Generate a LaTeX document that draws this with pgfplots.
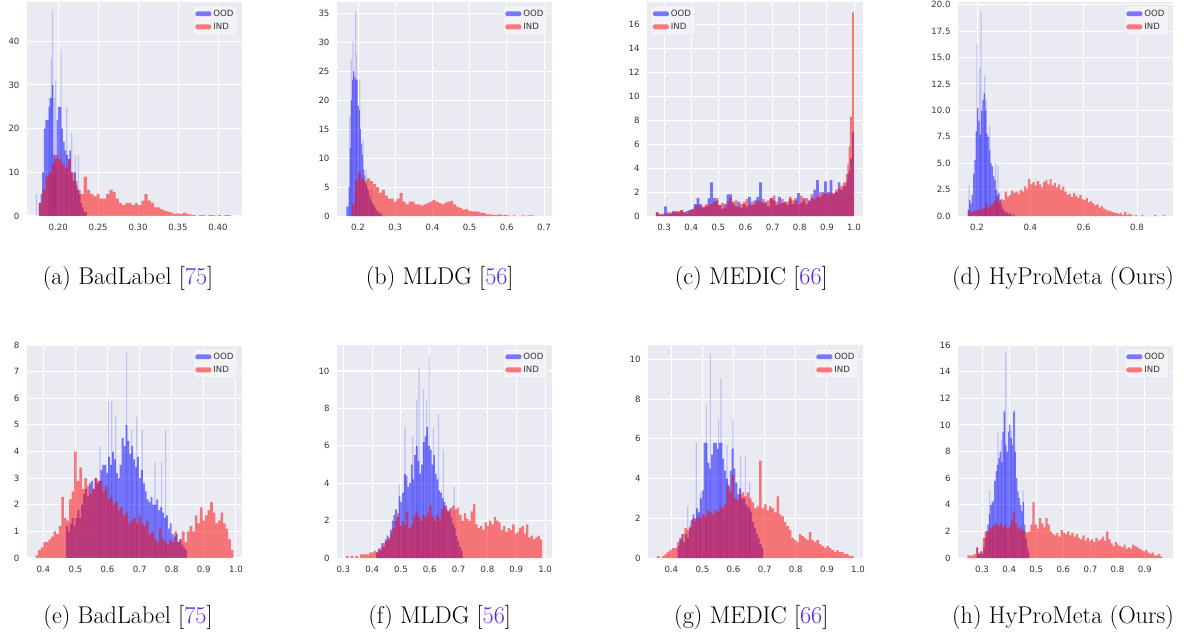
\documentclass[border=0pt]{standalone}
\usepackage{pgfplots}
\pgfplotsset{compat=1.18}
\usepackage{fontspec}
\newfontfamily\dejavu{DejaVu Sans}
\definecolor{snsbg}{HTML}{EAEAF2}
\definecolor{citec}{RGB}{85,40,240}
\definecolor{ticktext}{HTML}{333333}

\pgfplotsset{
  sns/.style={
    scale only axis, anchor=north west,
    width=215pt, height=214pt,
    axis background/.style={fill=snsbg},
    axis line style={draw=none},
    major tick length=0pt,
    xmajorgrids, ymajorgrids,
    major grid style={white, line width=1pt},
    ymin=0,
    /pgf/number format/assume math mode=true,
    tick label style={font=\dejavu\fontsize{8.6}{10}\selectfont, text=ticktext},
    xticklabel style={yshift=-4.5pt},
    yticklabel style={xshift=-4pt},
    legend cell align=left,
    legend style={draw=black!15, fill=snsbg!60!white,
      rounded corners=1.5pt, font=\dejavu\fontsize{8.6}{10}\selectfont, text=ticktext,
      inner sep=2.2pt, row sep=1.2pt},
    legend image code/.code={\fill[##1] (0pt,-2.4pt) rectangle (16pt,2.4pt);},
  },
  legR/.style={legend style={at={(1,1)}, anchor=north east, xshift=-4pt, yshift=-3.5pt}},
  legL/.style={legend style={at={(0,1)}, anchor=north west, xshift=3.5pt, yshift=-3.5pt}},
  ood/.style={const plot mark left, fill=blue, fill opacity=0.5, draw=none},
  ind/.style={const plot mark left, fill=red, fill opacity=0.5, draw=none},
  spk/.style={ybar, bar width=1.2pt, fill=blue, fill opacity=0.18, draw=none, forget plot},
}

\begin{document}
\begin{tikzpicture}
\path[use as bounding box] (0pt,0pt) rectangle (1190pt,-637pt);

% ---------------- (a) BadLabel, row 1
\begin{axis}[sns, legR, at={(27pt,-2pt)},
  xmin=0.161, xmax=0.43, ymax=49,
  xtick={0.20,0.25,0.30,0.35,0.40}, xticklabels={0.20,0.25,0.30,0.35,0.40},
  ytick={0,10,20,30,40}, yticklabels={0,10,20,30,40}]
\addplot[spk] coordinates {(0.1929,47) (0.1913,36) (0.2037,38) (0.197,31) (0.2108,25) (0.1888,27) (0.217,19) (0.2213,14) (0.2254,14) (0.173,5) (0.1955,27)};
\addplot[ood] coordinates {(0.176,3) (0.178,5) (0.180,10) (0.182,20) (0.184,22) (0.186,22) (0.188,25) (0.190,27) (0.192,30) (0.194,14) (0.196,13) (0.198,22) (0.200,25) (0.202,25) (0.204,20) (0.206,17) (0.208,15) (0.210,14) (0.212,13) (0.214,15) (0.216,10) (0.218,8) (0.220,10) (0.222,7) (0.224,6) (0.226,5) (0.228,3) (0.230,2) (0.232,1) (0.234,1) (0.236,0)} \closedcycle;
\addplot[ind] coordinates {(0.176,3) (0.180,6) (0.184,9) (0.188,10) (0.192,12) (0.196,14) (0.200,13) (0.204,12) (0.208,11) (0.212,13) (0.216,10) (0.220,8) (0.224,6) (0.228,5) (0.232,9) (0.236,6) (0.240,5) (0.244,4.5) (0.248,5) (0.252,4) (0.256,4) (0.260,5) (0.264,6) (0.268,5.5) (0.272,4) (0.276,3) (0.280,2.5) (0.284,3) (0.288,3) (0.292,2.5) (0.296,3) (0.300,2.5) (0.304,3.5) (0.308,5) (0.312,3.5) (0.316,3) (0.320,2) (0.324,2) (0.328,1.5) (0.332,1.2) (0.336,1) (0.340,0.8) (0.344,0.5) (0.348,0.6) (0.352,0.5) (0.356,0.8) (0.360,0.5) (0.364,0.3) (0.368,0.2) (0.372,0) (0.376,0.2) (0.380,0.2) (0.384,0) (0.388,0.2) (0.392,0.2) (0.396,0) (0.400,0.2) (0.404,0) (0.408,0.2) (0.412,0.2) (0.416,0)} \closedcycle;
\legend{OOD,IND}
\end{axis}

% ---------------- (b) MLDG, row 1
\begin{axis}[sns, legR, at={(337pt,-2pt)},
  xmin=0.1435, xmax=0.7215, ymax=36.9,
  xtick={0.2,0.3,0.4,0.5,0.6,0.7}, xticklabels={0.2,0.3,0.4,0.5,0.6,0.7},
  ytick={0,5,10,15,20,25,30,35}, yticklabels={0,5,10,15,20,25,30,35}]
\addplot[spk] coordinates {(0.1937,35.3) (0.1865,30.1) (0.182,27) (0.1776,17.2) (0.2045,23.5) (0.2135,13.1) (0.2224,8) (0.236,4.8) (0.1965,28)};
\addplot[ood] coordinates {(0.169,1.6) (0.172,1.6) (0.175,5) (0.178,11.7) (0.181,20) (0.184,23.5) (0.187,25) (0.190,24) (0.193,23.5) (0.196,23.5) (0.199,19) (0.202,18.3) (0.205,15) (0.208,12.5) (0.211,10.5) (0.214,8) (0.217,7) (0.220,5.5) (0.223,5) (0.226,4.5) (0.229,3.5) (0.232,3) (0.235,2.5) (0.238,2) (0.241,2) (0.244,1.5) (0.247,1) (0.250,1) (0.253,0.5) (0.256,0.7) (0.259,0.3) (0.262,0.5) (0.265,0)} \closedcycle;
\addplot[ind] coordinates {(0.184,2) (0.192,6) (0.200,7.5) (0.208,6.5) (0.216,6) (0.224,6.5) (0.232,6) (0.240,5.5) (0.248,5) (0.256,4) (0.264,4.5) (0.272,3.5) (0.280,3) (0.288,3) (0.296,2.5) (0.304,3) (0.312,4) (0.320,2.5) (0.328,2) (0.336,2.5) (0.344,2.5) (0.352,2) (0.360,2) (0.368,1.8) (0.376,2) (0.384,2.2) (0.392,2.5) (0.400,2.8) (0.408,2.5) (0.416,2.2) (0.424,2) (0.432,2.3) (0.440,2.5) (0.448,2.6) (0.456,2) (0.464,1.6) (0.472,1.4) (0.480,1.1) (0.488,1.2) (0.496,0.9) (0.504,0.8) (0.512,0.8) (0.520,0.7) (0.528,0.6) (0.536,0.5) (0.544,0.3) (0.552,0.3) (0.560,0.2) (0.568,0.2) (0.576,0.3) (0.584,0.1) (0.592,0.2) (0.600,0.1) (0.608,0) (0.616,0.1) (0.624,0) (0.640,0.1) (0.648,0) (0.656,0.1) (0.664,0.1) (0.672,0)} \closedcycle;
\legend{OOD,IND}
\end{axis}

% ---------------- (c) MEDIC, row 1
\begin{axis}[sns, legL, at={(647pt,-2pt)}, width=216pt,
  xmin=0.237, xmax=1.033, ymax=17.86,
  xtick={0.3,0.4,0.5,0.6,0.7,0.8,0.9,1.0}, xticklabels={0.3,0.4,0.5,0.6,0.7,0.8,0.9,1.0},
  ytick={0,2,4,6,8,10,12,14,16}, yticklabels={0,2,4,6,8,10,12,14,16}]
\addplot[ood] coordinates {(0.27,0.3) (0.28,0.1) (0.29,0.1) (0.30,0.8) (0.31,0.3) (0.32,0.2) (0.33,0.4) (0.34,0.3) (0.35,0.3) (0.36,0.5) (0.37,0.3) (0.38,0.4) (0.39,0.5) (0.40,0.6) (0.41,1.0) (0.42,1.5) (0.43,1.0) (0.44,0.7) (0.45,0.8) (0.46,1.5) (0.47,2.8) (0.48,1.5) (0.49,1.3) (0.50,0.9) (0.51,0.6) (0.52,1.0) (0.53,1.8) (0.54,1.8) (0.55,1.2) (0.56,0.8) (0.57,1.2) (0.58,0.7) (0.59,1.0) (0.60,0.8) (0.61,1.6) (0.62,0.9) (0.63,1.3) (0.64,1.6) (0.65,2.8) (0.66,1.1) (0.67,1.2) (0.68,0.8) (0.69,1.5) (0.70,1.3) (0.71,0.9) (0.72,1.6) (0.73,1.1) (0.74,1.2) (0.75,0.9) (0.76,1.4) (0.77,1.0) (0.78,1.3) (0.79,1.9) (0.80,1.1) (0.81,1.5) (0.82,1.0) (0.83,1.3) (0.84,1.5) (0.85,2.2) (0.86,3.0) (0.87,1.6) (0.88,2.0) (0.89,2.9) (0.90,2.0) (0.91,3.0) (0.92,1.8) (0.93,2.0) (0.94,2.8) (0.95,2.2) (0.96,2.5) (0.97,2.8) (0.975,3.5) (0.98,3.8) (0.985,4.8) (0.9925,7) (1.0,0)} \closedcycle;
\addplot[ind] coordinates {(0.27,0.3) (0.28,0.2) (0.29,0.2) (0.30,0.2) (0.31,0.1) (0.32,0.3) (0.33,0.3) (0.34,0.4) (0.35,0.4) (0.36,0.5) (0.37,0.3) (0.38,0.2) (0.39,0.5) (0.40,0.5) (0.41,0.8) (0.42,0.9) (0.43,0.8) (0.44,0.8) (0.45,1.0) (0.46,0.9) (0.47,1.0) (0.48,1.2) (0.49,1.5) (0.50,0.9) (0.51,1.1) (0.52,0.7) (0.53,1.2) (0.54,1.5) (0.55,1.0) (0.56,1.3) (0.57,0.8) (0.58,1.0) (0.59,1.2) (0.60,1.4) (0.61,0.9) (0.62,1.2) (0.63,1.0) (0.64,1.3) (0.65,1.2) (0.66,1.4) (0.67,1.0) (0.68,1.3) (0.69,1.5) (0.70,1.7) (0.71,1.2) (0.72,1.0) (0.73,1.4) (0.74,1.1) (0.75,1.2) (0.76,1.6) (0.77,1.3) (0.78,1.5) (0.79,1.0) (0.80,1.7) (0.81,1.3) (0.82,1.5) (0.83,1.2) (0.84,1.8) (0.85,1.4) (0.86,1.6) (0.87,2.0) (0.88,1.8) (0.89,1.9) (0.90,1.8) (0.91,2.0) (0.92,1.9) (0.93,2.2) (0.94,2.3) (0.95,2.5) (0.96,2.8) (0.97,3.5) (0.975,4.3) (0.98,5.8) (0.985,8.3) (0.9925,17) (1.0,0)} \closedcycle;
\legend{OOD,IND}
\end{axis}

% ---------------- (d) HyProMeta, row 1
\begin{axis}[sns, legR, at={(958pt,-2pt)},
  xmin=0.1288, xmax=0.935, ymax=20.25,
  xtick={0.2,0.4,0.6,0.8}, xticklabels={0.2,0.4,0.6,0.8},
  ytick={0,2.5,5,7.5,10,12.5,15,17.5,20}, yticklabels={0.0,2.5,5.0,7.5,10.0,12.5,15.0,17.5,20.0}]
\addplot[spk] coordinates {(0.215,19.3) (0.2,16.3) (0.21,14) (0.229,13.3) (0.235,11) (0.17,2.9) (0.2477,8.5) (0.27,5) (0.279,4.8)};
\addplot[ood] coordinates {(0.165,0.6) (0.170,1.5) (0.175,1.2) (0.180,2) (0.185,4) (0.190,5.3) (0.195,8) (0.200,10.2) (0.205,9) (0.210,7.7) (0.215,10) (0.220,11) (0.225,11.6) (0.230,10) (0.235,7.8) (0.240,7.5) (0.245,6.2) (0.250,5) (0.255,4.7) (0.260,3.8) (0.265,3.4) (0.270,2.5) (0.275,2) (0.280,2.2) (0.285,1.5) (0.290,1) (0.295,0.7) (0.300,0.5) (0.305,0.3) (0.310,0.4) (0.315,0.2) (0.320,0.3) (0.325,0.2) (0.330,0) (0.335,0.2) (0.340,0)} \closedcycle;
\addplot[ind] coordinates {(0.168,0.5) (0.176,0.4) (0.184,0.5) (0.192,0.5) (0.200,0.6) (0.208,0.5) (0.216,0.7) (0.224,0.8) (0.232,1.2) (0.240,0.8) (0.248,1.0) (0.256,1.2) (0.264,1.4) (0.272,1.8) (0.280,1.3) (0.288,1.6) (0.296,1.5) (0.304,2.3) (0.312,1.8) (0.320,2.0) (0.328,2.4) (0.336,2.2) (0.344,2.3) (0.352,2.1) (0.360,2.5) (0.368,2.3) (0.376,2.8) (0.384,2.6) (0.392,3.5) (0.400,3.0) (0.408,3.2) (0.416,2.9) (0.424,3.3) (0.432,3.0) (0.440,2.7) (0.448,3.2) (0.456,3.4) (0.464,3.0) (0.472,3.5) (0.480,2.9) (0.488,3.1) (0.496,2.7) (0.504,3.0) (0.512,2.5) (0.520,2.8) (0.528,2.3) (0.536,2.0) (0.544,2.1) (0.552,1.8) (0.560,2.2) (0.568,1.9) (0.576,1.7) (0.584,2.0) (0.592,1.6) (0.600,1.5) (0.608,1.7) (0.616,1.3) (0.624,1.4) (0.632,1.2) (0.640,1.0) (0.648,1.1) (0.656,0.8) (0.664,0.9) (0.672,0.7) (0.680,0.6) (0.688,0.5) (0.696,0.5) (0.704,0.4) (0.712,0.3) (0.720,0.3) (0.728,0.2) (0.736,0.3) (0.744,0.1) (0.752,0.4) (0.760,0.1) (0.768,0.2) (0.776,0.1) (0.784,0) (0.792,0.1) (0.800,0) (0.816,0.1) (0.824,0) (0.864,0.1) (0.872,0) (0.896,0.1) (0.904,0)} \closedcycle;
\legend{OOD,IND}
\end{axis}

% ---------------- (e) BadLabel, row 2
\begin{axis}[sns, legR, at={(27pt,-345pt)}, height=213pt,
  xmin=0.349, xmax=1.019, ymax=8,
  xtick={0.4,0.5,0.6,0.7,0.8,0.9,1.0}, xticklabels={0.4,0.5,0.6,0.7,0.8,0.9,1.0},
  ytick={0,1,2,3,4,5,6,7,8}, yticklabels={0,1,2,3,4,5,6,7,8}]
\addplot[spk] coordinates {(0.6595,7.7) (0.6024,5.9) (0.6128,5.9) (0.6253,5.3) (0.6907,5.3) (0.5765,4.2) (0.781,4.8) (0.708,4.8) (0.7478,3.6) (0.7685,3.6) (0.675,4.8)};
\addplot[ood] coordinates {(0.470,1.2) (0.476,1.0) (0.482,1.3) (0.488,1.5) (0.494,1.2) (0.500,1.5) (0.506,1.8) (0.512,1.5) (0.518,2.0) (0.524,2.4) (0.530,2.6) (0.536,2.3) (0.542,2.8) (0.548,2.9) (0.554,2.6) (0.560,3.0) (0.566,2.8) (0.572,2.9) (0.578,3.3) (0.584,3.5) (0.590,3.5) (0.596,3.2) (0.602,3.8) (0.608,3.5) (0.614,4.0) (0.620,3.7) (0.626,3.2) (0.632,3.0) (0.638,3.5) (0.644,4.5) (0.650,4.2) (0.656,5.0) (0.662,4.4) (0.668,3.9) (0.674,4.2) (0.680,3.7) (0.686,3.4) (0.692,3.8) (0.698,3.0) (0.704,3.3) (0.710,2.8) (0.716,2.5) (0.722,2.2) (0.728,2.1) (0.734,2.3) (0.740,2.0) (0.746,2.0) (0.752,2.2) (0.758,1.8) (0.764,1.9) (0.770,1.7) (0.776,1.5) (0.782,1.6) (0.788,1.1) (0.794,1.3) (0.800,0.9) (0.806,0.8) (0.812,0.9) (0.818,0.6) (0.824,0.7) (0.830,0.5) (0.836,0.4) (0.842,0.3) (0.848,0)} \closedcycle;
\addplot[ind] coordinates {(0.376,0.1) (0.384,0.3) (0.392,0.4) (0.400,0.6) (0.408,0.6) (0.416,0.7) (0.424,0.8) (0.432,1.0) (0.440,0.9) (0.448,1.2) (0.456,2.3) (0.464,1.5) (0.472,1.4) (0.480,2.2) (0.488,2.5) (0.496,4.0) (0.504,2.9) (0.512,3.4) (0.520,2.6) (0.528,3.0) (0.536,2.7) (0.544,2.4) (0.552,2.6) (0.560,3.0) (0.568,2.9) (0.576,2.9) (0.584,2.5) (0.592,2.7) (0.600,2.2) (0.608,2.3) (0.616,2.0) (0.624,2.1) (0.632,1.8) (0.640,1.9) (0.648,1.6) (0.656,1.7) (0.664,1.3) (0.672,1.4) (0.680,1.5) (0.688,1.3) (0.696,1.6) (0.704,1.3) (0.712,1.2) (0.720,1.4) (0.728,0.9) (0.736,1.0) (0.744,0.7) (0.752,0.6) (0.760,1.1) (0.768,0.7) (0.776,0.6) (0.784,0.5) (0.792,0.7) (0.800,0.6) (0.808,1.0) (0.816,0.6) (0.824,0.7) (0.832,1.0) (0.840,0.6) (0.848,1.0) (0.856,1.2) (0.864,1.0) (0.872,1.6) (0.880,1.3) (0.888,1.9) (0.896,1.4) (0.904,1.6) (0.912,1.8) (0.920,2.1) (0.928,1.7) (0.936,1.3) (0.944,1.4) (0.952,1.7) (0.960,1.3) (0.968,1.1) (0.976,0.7) (0.984,0.3) (0.992,0)} \closedcycle;
\legend{OOD,IND}
\end{axis}

% ---------------- (f) MLDG, row 2
\begin{axis}[sns, legR, at={(337pt,-345pt)}, height=213pt,
  xmin=0.278, xmax=1.024, ymax=11.39,
  xtick={0.3,0.4,0.5,0.6,0.7,0.8,0.9,1.0}, xticklabels={0.3,0.4,0.5,0.6,0.7,0.8,0.9,1.0},
  ytick={0,2,4,6,8,10}, yticklabels={0,2,4,6,8,10}]
\addplot[spk] coordinates {(0.5985,10.85) (0.5626,10.2) (0.5777,9) (0.514,7) (0.5545,8.45) (0.589,8.4) (0.6124,7) (0.63,7.7) (0.647,5.8) (0.4944,3.9) (0.685,3.8) (0.5407,6.5)};
\addplot[ood] coordinates {(0.414,0.3) (0.420,0.5) (0.426,0.4) (0.432,0.8) (0.438,0.6) (0.444,1.0) (0.450,1.2) (0.456,1.0) (0.462,1.5) (0.468,2.0) (0.474,2.3) (0.480,2.6) (0.486,2.2) (0.492,3.3) (0.498,3.0) (0.504,3.5) (0.510,4.5) (0.516,4.4) (0.522,3.8) (0.528,4.0) (0.534,5.0) (0.540,4.2) (0.546,5.5) (0.552,6.0) (0.558,5.2) (0.564,4.5) (0.570,5.0) (0.576,6.2) (0.582,6.5) (0.588,7.0) (0.594,6.0) (0.600,5.8) (0.606,5.0) (0.612,5.5) (0.618,4.5) (0.624,4.2) (0.630,3.6) (0.636,3.5) (0.642,3.2) (0.648,3.0) (0.654,2.8) (0.660,2.5) (0.666,2.6) (0.672,2.2) (0.678,1.8) (0.684,1.6) (0.690,1.2) (0.696,0.9) (0.702,0.6) (0.708,0.4) (0.714,0)} \closedcycle;
\addplot[ind] coordinates {(0.310,0.1) (0.318,0) (0.326,0.1) (0.334,0) (0.342,0.1) (0.350,0) (0.358,0.2) (0.366,0.2) (0.374,0.2) (0.382,0.2) (0.390,0.3) (0.398,0.3) (0.406,0.4) (0.414,0.3) (0.422,0.5) (0.430,0.6) (0.438,0.8) (0.446,0.9) (0.454,1.1) (0.462,1.3) (0.470,1.6) (0.478,2.0) (0.486,2.4) (0.494,1.7) (0.502,2.0) (0.510,1.8) (0.518,2.5) (0.526,1.6) (0.534,1.8) (0.542,2.2) (0.550,2.5) (0.558,2.2) (0.566,2.0) (0.574,2.3) (0.582,2.2) (0.590,2.4) (0.598,2.8) (0.606,2.2) (0.614,2.0) (0.622,2.3) (0.630,2.1) (0.638,2.6) (0.646,2.8) (0.654,2.6) (0.662,2.5) (0.670,2.7) (0.678,2.8) (0.686,2.6) (0.694,2.7) (0.702,2.3) (0.710,2.0) (0.718,2.4) (0.726,2.1) (0.734,2.0) (0.742,2.5) (0.750,2.9) (0.758,1.8) (0.766,1.6) (0.774,1.7) (0.782,1.5) (0.790,1.9) (0.798,1.7) (0.806,2.0) (0.814,1.8) (0.822,2.2) (0.830,2.0) (0.838,1.9) (0.846,1.5) (0.854,1.7) (0.862,1.4) (0.870,1.6) (0.878,1.5) (0.886,1.8) (0.894,1.3) (0.902,1.4) (0.910,1.6) (0.918,1.7) (0.926,1.3) (0.934,1.8) (0.942,1.1) (0.950,1.2) (0.958,1.0) (0.966,1.1) (0.974,1.2) (0.982,1.0) (0.990,0)} \closedcycle;
\legend{OOD,IND}
\end{axis}

% ---------------- (g) MEDIC, row 2
\begin{axis}[sns, legR, at={(648pt,-345pt)}, height=213pt,
  xmin=0.325, xmax=1.016, ymax=10.72,
  xtick={0.4,0.5,0.6,0.7,0.8,0.9,1.0}, xticklabels={0.4,0.5,0.6,0.7,0.8,0.9,1.0},
  ytick={0,2,4,6,8,10}, yticklabels={0,2,4,6,8,10}]
\addplot[spk] coordinates {(0.5254,10.3) (0.5597,9) (0.5125,7.7) (0.552,7) (0.5982,7) (0.48,5.8) (0.579,5.7) (0.622,5.1) (0.638,5.1) (0.652,3.85) (0.493,3.3) (0.4525,2.6)};
\addplot[ood] coordinates {(0.420,0.6) (0.426,1.0) (0.432,1.2) (0.438,0.8) (0.444,1.2) (0.450,1.0) (0.456,1.5) (0.462,1.9) (0.468,2.2) (0.474,2.0) (0.480,2.5) (0.486,2.3) (0.492,3.0) (0.498,3.4) (0.504,5.8) (0.510,5.8) (0.516,4.8) (0.522,4.5) (0.528,5.2) (0.534,5.8) (0.540,5.8) (0.546,5.5) (0.552,5.8) (0.558,5.8) (0.564,5.0) (0.570,4.4) (0.576,4.0) (0.582,3.6) (0.588,4.4) (0.594,5.5) (0.600,4.5) (0.606,3.8) (0.612,3.2) (0.618,3.5) (0.624,3.0) (0.630,3.0) (0.636,2.7) (0.642,2.6) (0.648,2.5) (0.654,2.3) (0.660,1.8) (0.666,1.5) (0.672,1.2) (0.678,1.0) (0.684,0.7) (0.690,0.5) (0.696,0)} \closedcycle;
\addplot[ind] coordinates {(0.354,0.1) (0.362,0) (0.370,0.1) (0.378,0.2) (0.386,0.3) (0.394,0.4) (0.402,0.5) (0.410,0.5) (0.418,0.8) (0.426,0.9) (0.434,1.2) (0.442,1.5) (0.450,1.4) (0.458,1.6) (0.466,2.0) (0.474,1.8) (0.482,2.1) (0.490,2.0) (0.498,2.2) (0.506,2.1) (0.514,2.4) (0.522,2.3) (0.530,2.2) (0.538,2.4) (0.546,2.3) (0.554,2.6) (0.562,2.5) (0.570,2.7) (0.578,3.7) (0.586,3.3) (0.594,4.2) (0.602,3.0) (0.610,2.9) (0.618,3.2) (0.626,3.3) (0.634,3.1) (0.642,3.3) (0.650,3.0) (0.658,2.8) (0.666,2.5) (0.674,2.6) (0.682,4.9) (0.690,2.5) (0.698,2.7) (0.706,2.4) (0.714,2.6) (0.722,2.5) (0.730,2.3) (0.738,3.1) (0.746,2.2) (0.754,2.1) (0.762,1.8) (0.770,1.6) (0.778,1.4) (0.786,1.0) (0.794,0.9) (0.802,0.8) (0.810,1.2) (0.818,1.1) (0.826,1.0) (0.834,0.9) (0.842,1.3) (0.850,0.9) (0.858,0.8) (0.866,0.9) (0.874,0.7) (0.882,0.6) (0.890,0.5) (0.898,0.6) (0.906,0.5) (0.914,0.4) (0.922,0.3) (0.930,0.4) (0.938,0.3) (0.946,0.3) (0.954,0.2) (0.962,0.2) (0.970,0.1) (0.978,0.1) (0.986,0)} \closedcycle;
\legend{OOD,IND}
\end{axis}

% ---------------- (h) HyProMeta, row 2
\begin{axis}[sns, legR, at={(958pt,-345pt)}, height=213pt,
  xmin=0.2114, xmax=1.0045, ymax=16,
  xtick={0.3,0.4,0.5,0.6,0.7,0.8,0.9}, xticklabels={0.3,0.4,0.5,0.6,0.7,0.8,0.9},
  ytick={0,2,4,6,8,10,12,14,16}, yticklabels={0,2,4,6,8,10,12,14,16}]
\addplot[spk] coordinates {(0.3873,15.4) (0.3836,11.1) (0.4205,11.1) (0.359,9.4) (0.3713,8.9) (0.328,5.1) (0.34,4.1) (0.451,5.1) (0.408,9.6)};
\addplot[ood] coordinates {(0.280,0.8) (0.285,0.3) (0.290,0.3) (0.295,0.5) (0.300,0.3) (0.305,0.8) (0.310,1.5) (0.315,2.0) (0.320,2.5) (0.325,3.3) (0.330,4.0) (0.335,4.2) (0.340,4.3) (0.345,5.8) (0.350,6.5) (0.355,7.0) (0.360,7.5) (0.365,8.0) (0.370,7.2) (0.375,9.5) (0.380,11.0) (0.385,8.5) (0.390,8.0) (0.395,9.5) (0.400,10.0) (0.405,9.0) (0.410,8.5) (0.415,11.0) (0.420,8.0) (0.425,6.0) (0.430,5.0) (0.435,4.5) (0.440,4.0) (0.445,3.5) (0.450,4.2) (0.455,2.5) (0.460,1.5) (0.465,0.8) (0.470,0.5) (0.475,0)} \closedcycle;
\addplot[ind] coordinates {(0.246,0.2) (0.254,0.2) (0.262,0.2) (0.270,0.3) (0.278,0.8) (0.286,0.4) (0.294,0.5) (0.302,1.5) (0.310,2.0) (0.318,2.0) (0.326,2.2) (0.334,2.3) (0.342,2.5) (0.350,2.6) (0.358,2.4) (0.366,2.6) (0.374,2.3) (0.382,2.5) (0.390,2.2) (0.398,2.4) (0.406,2.8) (0.414,3.4) (0.422,2.6) (0.430,2.2) (0.438,2.3) (0.446,2.1) (0.454,2.0) (0.462,1.9) (0.470,2.0) (0.478,2.5) (0.486,4.2) (0.494,2.5) (0.502,2.2) (0.510,3.0) (0.518,2.6) (0.526,2.3) (0.534,3.0) (0.542,2.5) (0.550,2.0) (0.558,1.8) (0.566,1.7) (0.574,1.9) (0.582,1.6) (0.590,2.1) (0.598,1.9) (0.606,1.8) (0.614,2.0) (0.622,1.7) (0.630,1.9) (0.638,1.6) (0.646,1.8) (0.654,1.5) (0.662,1.4) (0.670,1.7) (0.678,1.3) (0.686,1.5) (0.694,1.3) (0.702,1.4) (0.710,1.2) (0.718,1.5) (0.726,1.3) (0.734,1.4) (0.742,1.6) (0.750,1.3) (0.758,2.0) (0.766,1.4) (0.774,1.1) (0.782,0.9) (0.790,1.2) (0.798,1.0) (0.806,0.9) (0.814,0.8) (0.822,1.0) (0.830,0.7) (0.838,0.8) (0.846,0.7) (0.854,1.0) (0.862,0.9) (0.870,0.8) (0.878,0.7) (0.886,0.6) (0.894,0.5) (0.902,0.6) (0.910,0.4) (0.918,0.3) (0.926,0.4) (0.934,0.2) (0.942,0.2) (0.950,0.3) (0.958,0.1) (0.966,0)} \closedcycle;
\legend{OOD,IND}
\end{axis}

% ---------------- sub-captions
\begin{scope}[every node/.style={anchor=base, font=\fontsize{24.2}{29}\selectfont}]
\node at (128pt,-284pt) {(a) BadLabel [{\color{citec}75}]};
\node at (439.7pt,-284pt) {(b) MLDG [{\color{citec}56}]};
\node at (751.3pt,-284pt) {(c) MEDIC [{\color{citec}66}]};
\node at (1063pt,-284pt) {(d) HyProMeta (Ours)};
\node at (128pt,-623pt) {(e) BadLabel [{\color{citec}75}]};
\node at (439.7pt,-623pt) {(f) MLDG [{\color{citec}56}]};
\node at (751.3pt,-623pt) {(g) MEDIC [{\color{citec}66}]};
\node at (1063pt,-623pt) {(h) HyProMeta (Ours)};
\end{scope}
\end{tikzpicture}
\end{document}
